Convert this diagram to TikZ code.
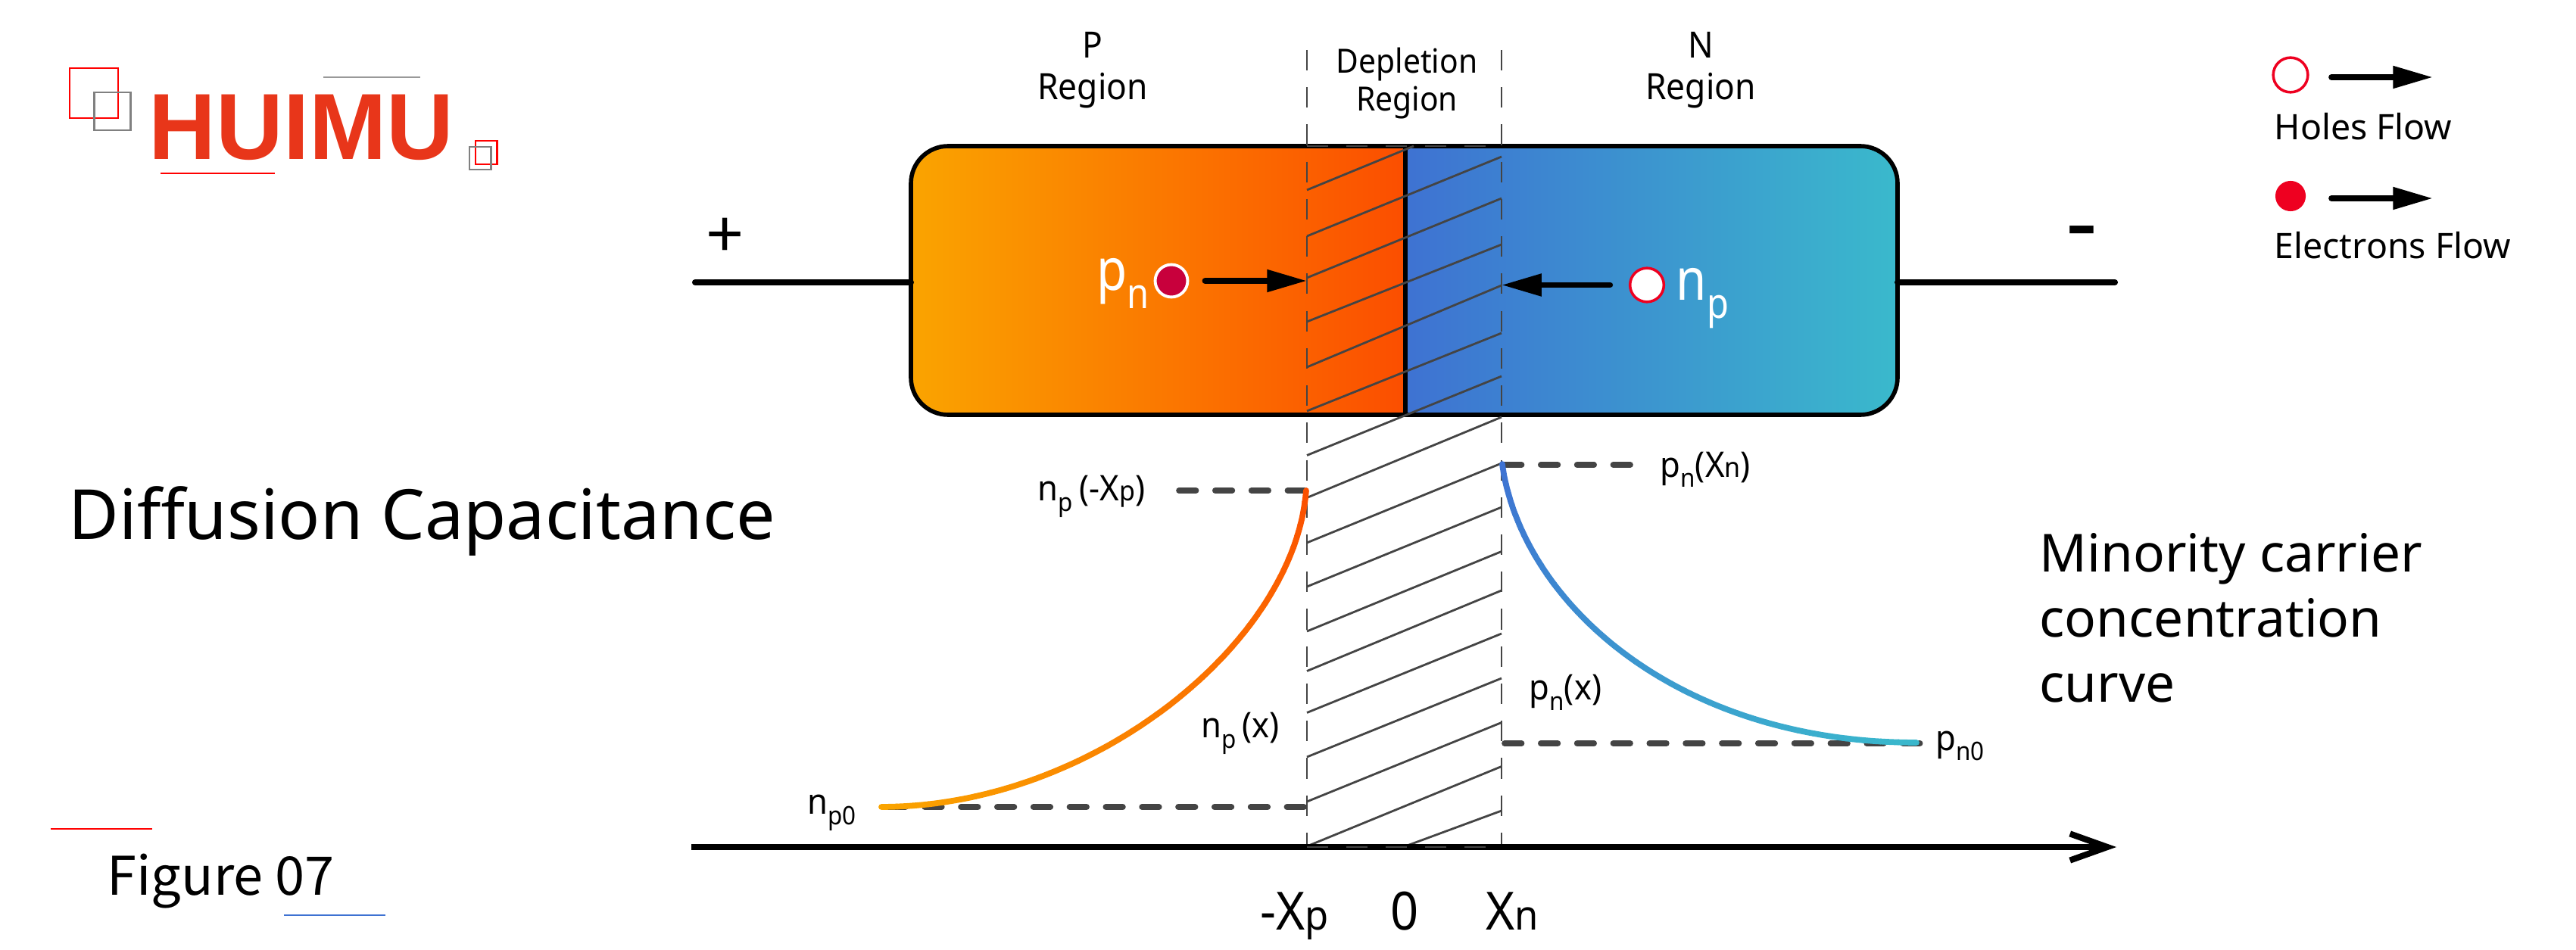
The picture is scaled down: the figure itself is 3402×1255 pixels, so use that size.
\documentclass[tikz,border=0pt]{standalone}
\usepackage{fontspec}
\usepackage{xcolor}
\usetikzlibrary{arrows.meta}
\setmainfont{Noto Sans}
\newfontfamily\cjk{Noto Sans CJK SC}
\newfontfamily\logofont{Liberation Sans}
\makeatletter
\newcommand{\lowsub}[1]{\raisebox{-.3em}{\fontsize{\fpeval{0.72*\f@size}}{1}\selectfont #1}}
\newcommand{\smallp}[1]{{\fontsize{\fpeval{0.78*\f@size}}{1}\selectfont #1}}
\makeatother
\definecolor{pstart}{HTML}{FAA400}
\definecolor{pend}{HTML}{FB4E00}
\definecolor{nstart}{HTML}{3E72D2}
\definecolor{nend}{HTML}{3AB9CC}
\definecolor{darkline}{HTML}{444444}
\definecolor{logored}{HTML}{E8361A}
\definecolor{dotred}{HTML}{EE0020}
\definecolor{crimson}{HTML}{C8003C}
\tikzset{
  lbl/.style={inner sep=0pt,yscale=1.08,font=\fontsize{12.6}{15}\selectfont},
  small lbl/.style={inner sep=0pt,anchor=base west,yscale=1.07,font=\fontsize{12.4}{15}\selectfont},
  tick lbl/.style={inner sep=0pt,anchor=base,yscale=1.07,font=\fontsize{18.5}{22}\selectfont},
  big lbl/.style={inner sep=0pt,anchor=base west,font=\fontsize{19.7}{24}\selectfont},
  carrier lbl/.style={inner sep=0pt,anchor=base west,yscale=1.18,text=white,font=\fontsize{18.6}{24}\selectfont},
  leg lbl/.style={inner sep=0pt,anchor=base west,font=\fontsize{13.2}{15}\selectfont},
  wire/.style={line width=2.3pt,line cap=round},
  flow/.style={line width=2.2pt,line cap=round,-{Triangle[length=15pt,width=8pt]}},
  leader/.style={darkline,line width=2.2pt,line cap=round,dash pattern=on 6.4pt off 7.2pt},
  edge/.style={darkline,line width=.75pt,dash pattern=on 7.7pt off 6.3pt},
  hatch/.style={darkline,line width=.8pt},
  curve/.style={line width=2.2pt,line cap=round},
  thin rule/.style={line width=.7pt},
  hole/.style={circle,inner sep=0pt,minimum size=12.7pt,fill=white,draw=dotred,line width=1pt},
  declare function={
    bez(\a,\b,\c,\d,\t)=(1-\t)^3*\a+3*(1-\t)^2*\t*\b+3*(1-\t)*\t^2*\c+\t^3*\d;
  }
}
\begin{document}
\begin{tikzpicture}[x=0.01cm,y=-0.01cm]
\useasboundingbox (0,0) rectangle (3402,1255);

% logo
\draw[red,thin rule] (92,90) rectangle (156,156);
\draw[gray,thin rule] (124.5,122) rectangle (172.5,172);
\draw[red,thin rule] (628,186) rectangle (656.5,217);
\draw[gray,thin rule] (620,194) rectangle (648.5,224);
\draw[gray!80,thin rule] (427,102) -- (555,102);
\draw[red,thin rule] (212,229) -- (363,229);
\node[inner sep=0pt,anchor=base west,text=logored,xscale=.99,font=\logofont\bfseries\fontsize{35.3}{40}\selectfont] (logo) at (196,211) {HUIMU};

% body of the diode
\fill[left color=pstart,right color=pend] (1856,193) [rounded corners=14pt] -- (1203,193) -- (1203,548) [sharp corners] -- (1856,548) -- cycle;
\fill[left color=nstart,right color=nend] (1856,193) [rounded corners=14pt] -- (2506,193) -- (2506,548) [sharp corners] -- (1856,548) -- cycle;
\draw[line width=1.6pt,rounded corners=14pt] (1203,193) rectangle (2506,548);
\draw[line width=1.6pt] (1856,193) -- (1856,548);

\coordinate (wireLa) at (918,373);
\coordinate (wireLb) at (1203,373);
\coordinate (wireRa) at (2506,373);
\coordinate (wireRb) at (2793,373);
\draw[wire] (wireLa) -- (wireLb);
\draw[wire] (wireRa) -- (wireRb);

% depletion region
\foreach \ya/\yb in {312/207,367/262,425/323,485/377,543/440,601.5/497,657.5/551,717/612,775/670,834/728.5,886.5/780,941.5/837,1000/896,1059/954.5,1118/1012.5}
  \draw[hatch] (1726,\ya) -- (1983,\yb);
\draw[hatch] (1726,251) -- (1867,193);
\draw[hatch] (1853,1119) -- (1983,1071);
\draw[edge] (1726,66) -- (1726,1119);
\draw[edge] (1983,66) -- (1983,1119);
\draw[edge,dash pattern=on 8pt off 6.8pt] (1726,193) -- (1983,193);

% axis
\coordinate (axisA) at (913,1119);
\coordinate (axisB) at (2795,1119);
\draw[line width=2.3pt,-{Straight Barb[length=14pt,width=10pt]}] (axisA) -- (axisB);
\draw[edge,dash pattern=on 8pt off 6.8pt] (1726,1119) -- (1983,1119);

% dashed levels
\coordinate (npxpA) at (1557,648);
\coordinate (npxpB) at (1726,648);
\coordinate (pnxnA) at (1987,614);
\coordinate (pnxnB) at (2157,614);
\coordinate (npzA) at (1165,1066);
\coordinate (npzB) at (1722,1066);
\coordinate (pnzA) at (1987,982);
\coordinate (pnzB) at (2540,982);
\draw[leader] (npxpA) -- (npxpB);
\draw[leader] (pnxnA) -- (pnxnB);
\draw[leader] (npzB) -- (npzA);
\draw[leader] (pnzA) -- (pnzB);

% curves
\foreach \i [evaluate=\i as \pc using \i*2.5] in {0,...,39}
  \draw[pend!\pc!pstart,curve] plot[domain=\i/40:(\i+1)/40,samples=4] ({bez(1164,1444,1710,1725,\x)},{bez(1066,1066,848,648,\x)});
\foreach \i [evaluate=\i as \pc using \i*2.5] in {0,...,39}
  \draw[nend!\pc!nstart,curve] plot[domain=\i/40:(\i+1)/40,samples=4] ({bez(1984,2009,2211,2531,\x)},{bez(613,793,981,981,\x)});

% carriers
\node[circle,inner sep=0pt,minimum size=12.2pt,fill=crimson,draw=white,line width=1.1pt] (holeP) at (1547,371) {};
\node[hole] (holeN) at (2175,376.5) {};
\coordinate (tipP) at (1726,371);
\coordinate (tipN) at (1983,376.5);
\draw[flow,shorten <=6pt] (holeP) -- (tipP);
\draw[flow,shorten <=7pt] (holeN) -- (tipN);
\node[carrier lbl] (pnLbl) at (1448,384) {p\lowsub{n}};
\node[carrier lbl] (npLbl) at (2213,397) {n\lowsub{p}};

% region labels
\node[lbl,align=center] (pReg) at (1443,93) {P\\[-.6pt]Region};
\node[lbl,align=center] (nReg) at (2246,93) {N\\[-.6pt]Region};
\node[lbl,align=center,font=\fontsize{11.6}{13.2}\selectfont] (depReg) at (1858,110) {Depletion\\Region};
\node[inner sep=0pt,anchor=base,font=\fontsize{25}{28}\selectfont] (plusLbl) at (957.5,341) {+};
\node[inner sep=0pt,anchor=base,font=\bfseries\fontsize{37}{40}\selectfont] (minusLbl) at (2749,339) {-};

% curve labels
\node[small lbl] (npxpLbl) at (1370,662) {n\lowsub{p}\kern2.5pt(-X\smallp{p})};
\node[small lbl] (pnxnLbl) at (2192,630) {p\lowsub{n}(X\smallp{n})};
\node[small lbl] (npxLbl) at (1586,974) {n\lowsub{p}\kern2pt(x)};
\node[small lbl] (pnxLbl) at (2019,924) {p\lowsub{n}(x)};
\node[small lbl] (npzLbl) at (1066,1075) {n\lowsub{p0}};
\node[small lbl] (pnzLbl) at (2556,991) {p\lowsub{n0}};

% axis labels
\node[tick lbl] (xpLbl) at (1710,1228) {-X\smallp{p}};
\node[tick lbl] (zeroLbl) at (1855,1228) {0};
\node[tick lbl] (xnLbl) at (1997,1228) {X\smallp{n}};

% titles
\node[inner sep=0pt,anchor=base west,font=\fontsize{26}{30}\selectfont] (title) at (90,712) {Diffusion Capacitance};
\node[big lbl] (minA) at (2693,755) {Minority carrier};
\node[big lbl] (minB) at (2693,841) {concentration};
\node[big lbl] (minC) at (2693,927) {curve};
\node[inner sep=0pt,anchor=base west,font=\cjk\fontsize{20}{24}\selectfont] (figLbl) at (141,1182) {Figure 07};
\draw[red,thin rule] (66.5,1095) -- (200.5,1095);
\draw[nstart,thin rule] (375,1209) -- (509,1209);

% legend
\node[hole,minimum size=13pt] (legHole) at (3025,99) {};
\node[circle,minimum size=11.4pt,inner sep=0pt,fill=dotred] (legElec) at (3025,259) {};
\coordinate (legStartA) at (3079,102);
\coordinate (legStartB) at (3079,262);
\coordinate (legTipA) at (3213,102);
\coordinate (legTipB) at (3213,262);
\draw[flow] (legStartA) -- (legTipA);
\draw[flow] (legStartB) -- (legTipB);
\node[leg lbl] (legHoleLbl) at (3003,185) {Holes Flow};
\node[leg lbl] (legElecLbl) at (3003,342) {Electrons Flow};
\end{tikzpicture}
\end{document}
